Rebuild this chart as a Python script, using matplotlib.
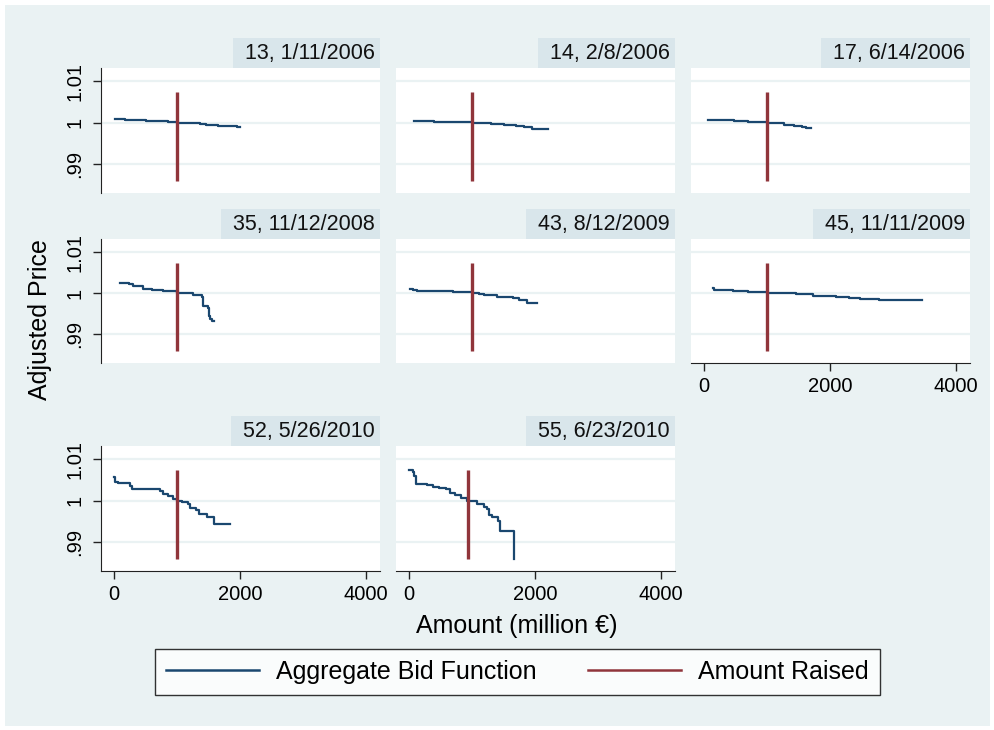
import matplotlib
matplotlib.use("Agg")
import matplotlib.pyplot as plt
from matplotlib.patches import Rectangle
from matplotlib.lines import Line2D

plt.rcParams['font.family'] = ['Liberation Sans', 'DejaVu Sans']

# panel labels (auction no., date)
titles = ["13, 1/11/2006", "14, 2/8/2006", "17, 6/14/2006",
          "35, 11/12/2008", "43, 8/12/2009", "45, 11/11/2009",
          "52, 5/26/2010", "55, 6/23/2010"]

# aggregate bid functions: cumulative amount (million EUR) where each price level starts
amt_13 = [15, 170, 330, 500, 700, 850, 1000, 1180, 1360, 1460, 1650, 1850, 1950, 2000]
price_13 = [1.0008, 1.00075, 1.0006, 1.0005, 1.0004, 1.0002, 1.0, 0.99985, 0.9996, 0.9994,
            0.99925, 0.9991, 0.99885, 0.99885]

amt_14 = [70, 150, 400, 700, 990, 1150, 1300, 1500, 1700, 1820, 1950, 2200]
price_14 = [1.0004, 1.00035, 1.0002, 1.00015, 1.0, 0.99985, 0.9997, 0.99945, 0.9992, 0.9990,
            0.99855, 0.9984]

amt_17 = [60, 200, 350, 480, 690, 1000, 1160, 1270, 1420, 1560, 1620, 1700]
price_17 = [1.00075, 1.0007, 1.0006, 1.0004, 1.0002, 1.0, 0.99995, 0.99935, 0.9992, 0.99905,
            0.9988, 0.9986]

amt_35 = [90, 240, 300, 460, 600, 780, 1000, 1250, 1390, 1415, 1490, 1505, 1520, 1560, 1590]
price_35 = [1.0026, 1.0023, 1.0017, 1.0011, 1.0009, 1.0006, 1.0001, 0.9996, 0.9990, 0.9970,
            0.9965, 0.9945, 0.9937, 0.9932, 0.9932]

amt_43 = [10, 60, 130, 450, 700, 1000, 1100, 1190, 1400, 1640, 1740, 1870, 2030]
price_43 = [1.0011, 1.0009, 1.00065, 1.0005, 1.0003, 1.0001, 0.9998, 0.9996, 0.9991, 0.99885,
            0.9983, 0.9975, 0.9975]

amt_45 = [140, 155, 450, 700, 1000, 1450, 1720, 2100, 2300, 2480, 2770, 3450]
price_45 = [1.0013, 1.0007, 1.0005, 1.0003, 1.0, 0.9997, 0.9994, 0.9991, 0.9989, 0.99865,
            0.99835, 0.99833]

amt_52 = [0, 20, 60, 250, 280, 730, 780, 850, 940, 1000, 1070, 1175, 1210, 1300, 1350, 1470,
          1580, 1590, 1840]
price_52 = [1.0057, 1.0045, 1.0042, 1.0035, 1.0027, 1.0024, 1.0017, 1.0012, 1.0005, 1.0, 0.9996,
            0.9991, 0.9982, 0.9977, 0.9968, 0.9961, 0.9955, 0.99425, 0.99425]

amt_55 = [0, 60, 75, 105, 115, 290, 370, 480, 580, 640, 720, 820, 920, 1000, 1080, 1180, 1240,
          1270, 1320, 1410, 1440, 1665, 1670]
price_55 = [1.0073, 1.0068, 1.0060, 1.0050, 1.0039, 1.0037, 1.0034, 1.0031, 1.0027, 1.0018,
            1.0013, 1.0007, 1.0, 0.9998, 0.9991, 0.9985, 0.9981, 0.9965, 0.9960, 0.9951,
            0.99257, 0.9860, 0.9860]

# amount raised in each auction (million EUR)
raised = [1000, 990, 1000, 1000, 990, 1000, 1000, 940]

amounts = [amt_13, amt_14, amt_17, amt_35, amt_43, amt_45, amt_52, amt_55]
prices = [price_13, price_14, price_17, price_35, price_43, price_45, price_52, price_55]

BG = "#EAF2F3"
STRIP = "#D9E6EB"
NAVY = "#1A476F"
MAROON = "#90353B"

W, H = 995, 730
fig = plt.figure(figsize=(W / 100, H / 100), dpi=100)
fig.patch.set_facecolor("white")
fig.add_artist(Rectangle((5 / W, 4 / H), 985 / W, 721 / H, transform=fig.transFigure,
                         facecolor=BG, edgecolor="none", zorder=-10))

cols = [(101, 380), (396, 675), (691, 970)]
rows = [(68, 193), (239, 363), (446, 571)]
xaxis_panels = {5, 6, 7}

ylo = min(min(p) for p in prices)
yhi = max(max(p) for p in prices)

axes = []
for i in range(8):
    r, c = divmod(i, 3)
    x0, x1 = cols[c]
    y0, y1 = rows[r]
    ax = fig.add_axes([x0 / W, 1 - y1 / H, (x1 - x0) / W, (y1 - y0) / H])
    ax.set_facecolor("white")
    ax.step(amounts[i], prices[i], where="post", color=NAVY, lw=1.6, zorder=3)
    ax.vlines(raised[i], ylo, yhi, color=MAROON, lw=2.4, zorder=4)
    ax.set_xlim(-210, 4220)
    ax.set_ylim(0.983, 1.0132)
    ax.set_yticks([0.99, 1.0, 1.01])
    ax.set_yticklabels([".99", "1", "1.01"])
    ax.set_xticks([0, 2000, 4000])
    ax.grid(axis="y", color=BG, lw=1.6, zorder=0)
    ax.set_axisbelow(True)
    for s in ["top", "right"]:
        ax.spines[s].set_visible(False)
    ax.spines["left"].set_visible(c == 0)
    ax.spines["bottom"].set_visible(i in xaxis_panels)
    ax.spines["left"].set_color("#222222")
    ax.spines["bottom"].set_color("#222222")
    ax.tick_params(axis="y", left=(c == 0), labelleft=(c == 0), length=6, width=1,
                   labelsize=14.5, pad=6, color="#222222")
    for lab in ax.get_yticklabels():
        lab.set_rotation(90)
        lab.set_va("center")
    ax.tick_params(axis="x", bottom=(i in xaxis_panels), labelbottom=(i in xaxis_panels),
                   length=6, width=1, labelsize=14.5, pad=4, color="#222222")
    axes.append(ax)

    # strip title, right aligned above the plot region
    t = fig.text((x1 - 5) / W, 1 - (y0 - 15) / H, titles[i], ha="right", va="center",
                 fontsize=15.5, color="#111111", zorder=5)
    axes[-1].strip_text = t

renderer = fig.canvas.get_renderer()
for i, ax in enumerate(axes):
    r, c = divmod(i, 3)
    x0, x1 = cols[c]
    y0, y1 = rows[r]
    bb = ax.strip_text.get_window_extent(renderer)
    left = bb.x0 - 12
    fig.add_artist(Rectangle((left / W, 1 - y0 / H), (x1 - left) / W, 30 / H,
                             transform=fig.transFigure, facecolor=STRIP,
                             edgecolor="none", zorder=1))

fig.text(40 / W, 1 - 320 / H, "Adjusted Price", rotation=90, ha="center", va="center",
         fontsize=18)
fig.text(517 / W, 1 - 626 / H, "Amount (million \u20ac)", ha="center", va="center",
         fontsize=18)

handles = [Line2D([], [], color=NAVY, lw=1.8), Line2D([], [], color=MAROON, lw=1.8)]
leg = fig.legend(handles, ["Aggregate Bid Function", "Amount Raised"], ncol=2,
                 loc="center", bbox_to_anchor=(155 / W, 1 - 696 / H, 725 / W, 48 / H),
                 mode="expand", fontsize=18, frameon=True, fancybox=False,
                 handlelength=3.7, handletextpad=0.7, borderaxespad=0, borderpad=0.45,
                 columnspacing=2.0)
leg.get_frame().set_edgecolor("black")
leg.get_frame().set_linewidth(1.0)
leg.get_frame().set_facecolor("white")

fig.savefig("out.png", dpi=100, facecolor=fig.get_facecolor())
